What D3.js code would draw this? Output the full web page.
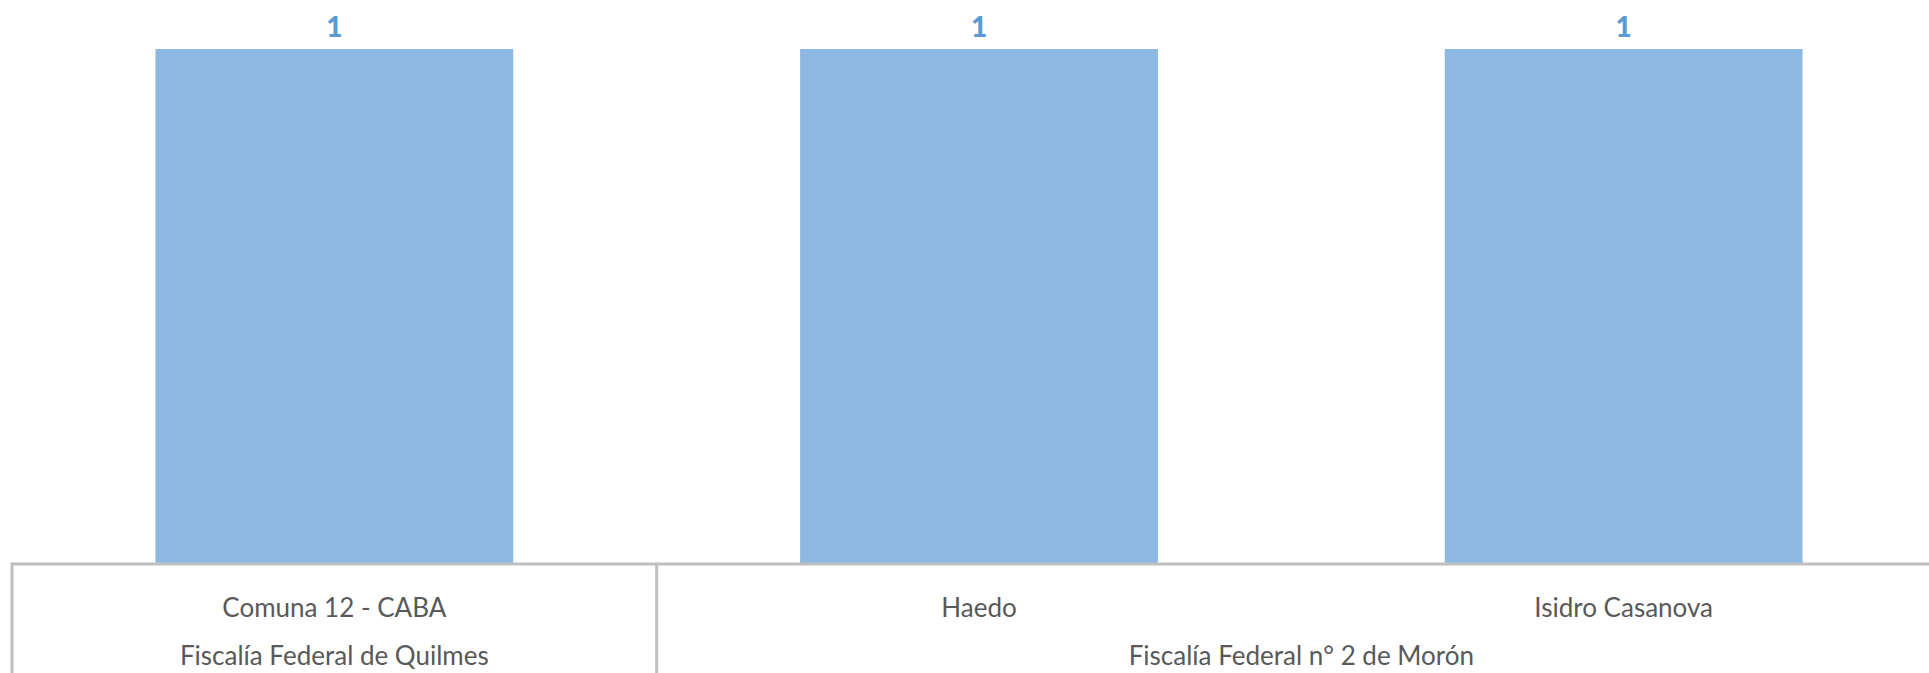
<!DOCTYPE html>
<html>
<head>
<meta charset="utf-8">
<script src="https://cdn.jsdelivr.net/npm/d3@7"></script>
<style>
  html, body { margin: 0; padding: 0; background: #fff; overflow: hidden; }
</style>
</head>
<body>
<div id="container"></div>
<script>
const categories = ["Comuna 12 - CABA", "Haedo", "Isidro Casanova"];
const groups = ["Fiscalía Federal de Quilmes", "Fiscalía Federal n° 2 de Morón", "Fiscalía Federal n° 2 de Morón"];
const values = [1, 1, 1];

document.addEventListener("DOMContentLoaded", () => {

const width = 1929;
const height = 673;
const marginTop = 49;
const marginLeft = 12;
const plotRight = 1946;
const baseline = 564;

const data = categories.map((c, i) => ({ cat: c, group: groups[i], value: values[i] }));

const x = d3.scaleBand()
    .domain(categories)
    .range([marginLeft, plotRight])
    .paddingInner(0.445)
    .paddingOuter(0.2225);

const y = d3.scaleLinear()
    .domain([0, 1])
    .range([baseline, marginTop]);

const svg = d3.create("svg")
    .attr("width", width)
    .attr("height", height)
    .style("display", "block");

// bars
svg.append("g")
    .selectAll("rect")
    .data(data)
    .enter()
    .append("rect")
    .attr("x", d => x(d.cat))
    .attr("y", d => y(d.value))
    .attr("width", x.bandwidth())
    .attr("height", d => y(0) - y(d.value))
    .attr("fill", "#8DB8E2");

// value labels
svg.append("g")
    .selectAll("text")
    .data(data)
    .enter()
    .append("text")
    .attr("x", d => x(d.cat) + x.bandwidth() / 2)
    .attr("y", d => y(d.value) - 12)
    .attr("text-anchor", "middle")
    .attr("font-family", "Lato, sans-serif")
    .attr("font-weight", "900")
    .attr("font-size", 28)
    .attr("fill", "#5B9BD5")
    .text(d => d.value);

// category axis with grouped labels
const half = x.step() * x.paddingInner() / 2;
const axis = svg.append("g");

axis.append("line")
    .attr("x1", marginLeft).attr("x2", plotRight)
    .attr("y1", baseline).attr("y2", baseline)
    .attr("stroke", "#BFBFBF")
    .attr("stroke-width", 3);

axis.selectAll(".cat")
    .data(data)
    .enter()
    .append("text")
    .attr("class", "cat")
    .attr("x", d => x(d.cat) + x.bandwidth() / 2)
    .attr("y", 617)
    .attr("text-anchor", "middle")
    .attr("font-family", "Lato, sans-serif")
    .attr("font-size", 26)
    .attr("fill", "#595959")
    .text(d => d.cat);

// groups: span of consecutive categories
const groupSpans = [];
data.forEach(d => {
    const last = groupSpans[groupSpans.length - 1];
    if (last && last.name === d.group) last.cats.push(d.cat);
    else groupSpans.push({ name: d.group, cats: [d.cat] });
});
groupSpans.forEach(g => {
    g.x0 = x(g.cats[0]) - half;
    g.x1 = x(g.cats[g.cats.length - 1]) + x.bandwidth() + half;
});

axis.selectAll(".sep")
    .data(groupSpans)
    .enter()
    .append("line")
    .attr("class", "sep")
    .attr("x1", d => d.x0).attr("x2", d => d.x0)
    .attr("y1", baseline - 1.5).attr("y2", height)
    .attr("stroke", "#BFBFBF")
    .attr("stroke-width", 3);

axis.selectAll(".grp")
    .data(groupSpans)
    .enter()
    .append("text")
    .attr("class", "grp")
    .attr("x", d => (d.x0 + d.x1) / 2)
    .attr("y", 665)
    .attr("text-anchor", "middle")
    .attr("font-family", "Lato, sans-serif")
    .attr("font-size", 26)
    .attr("fill", "#595959")
    .text(d => d.name);

document.getElementById("container").append(svg.node());
});
</script>
</body>
</html>
